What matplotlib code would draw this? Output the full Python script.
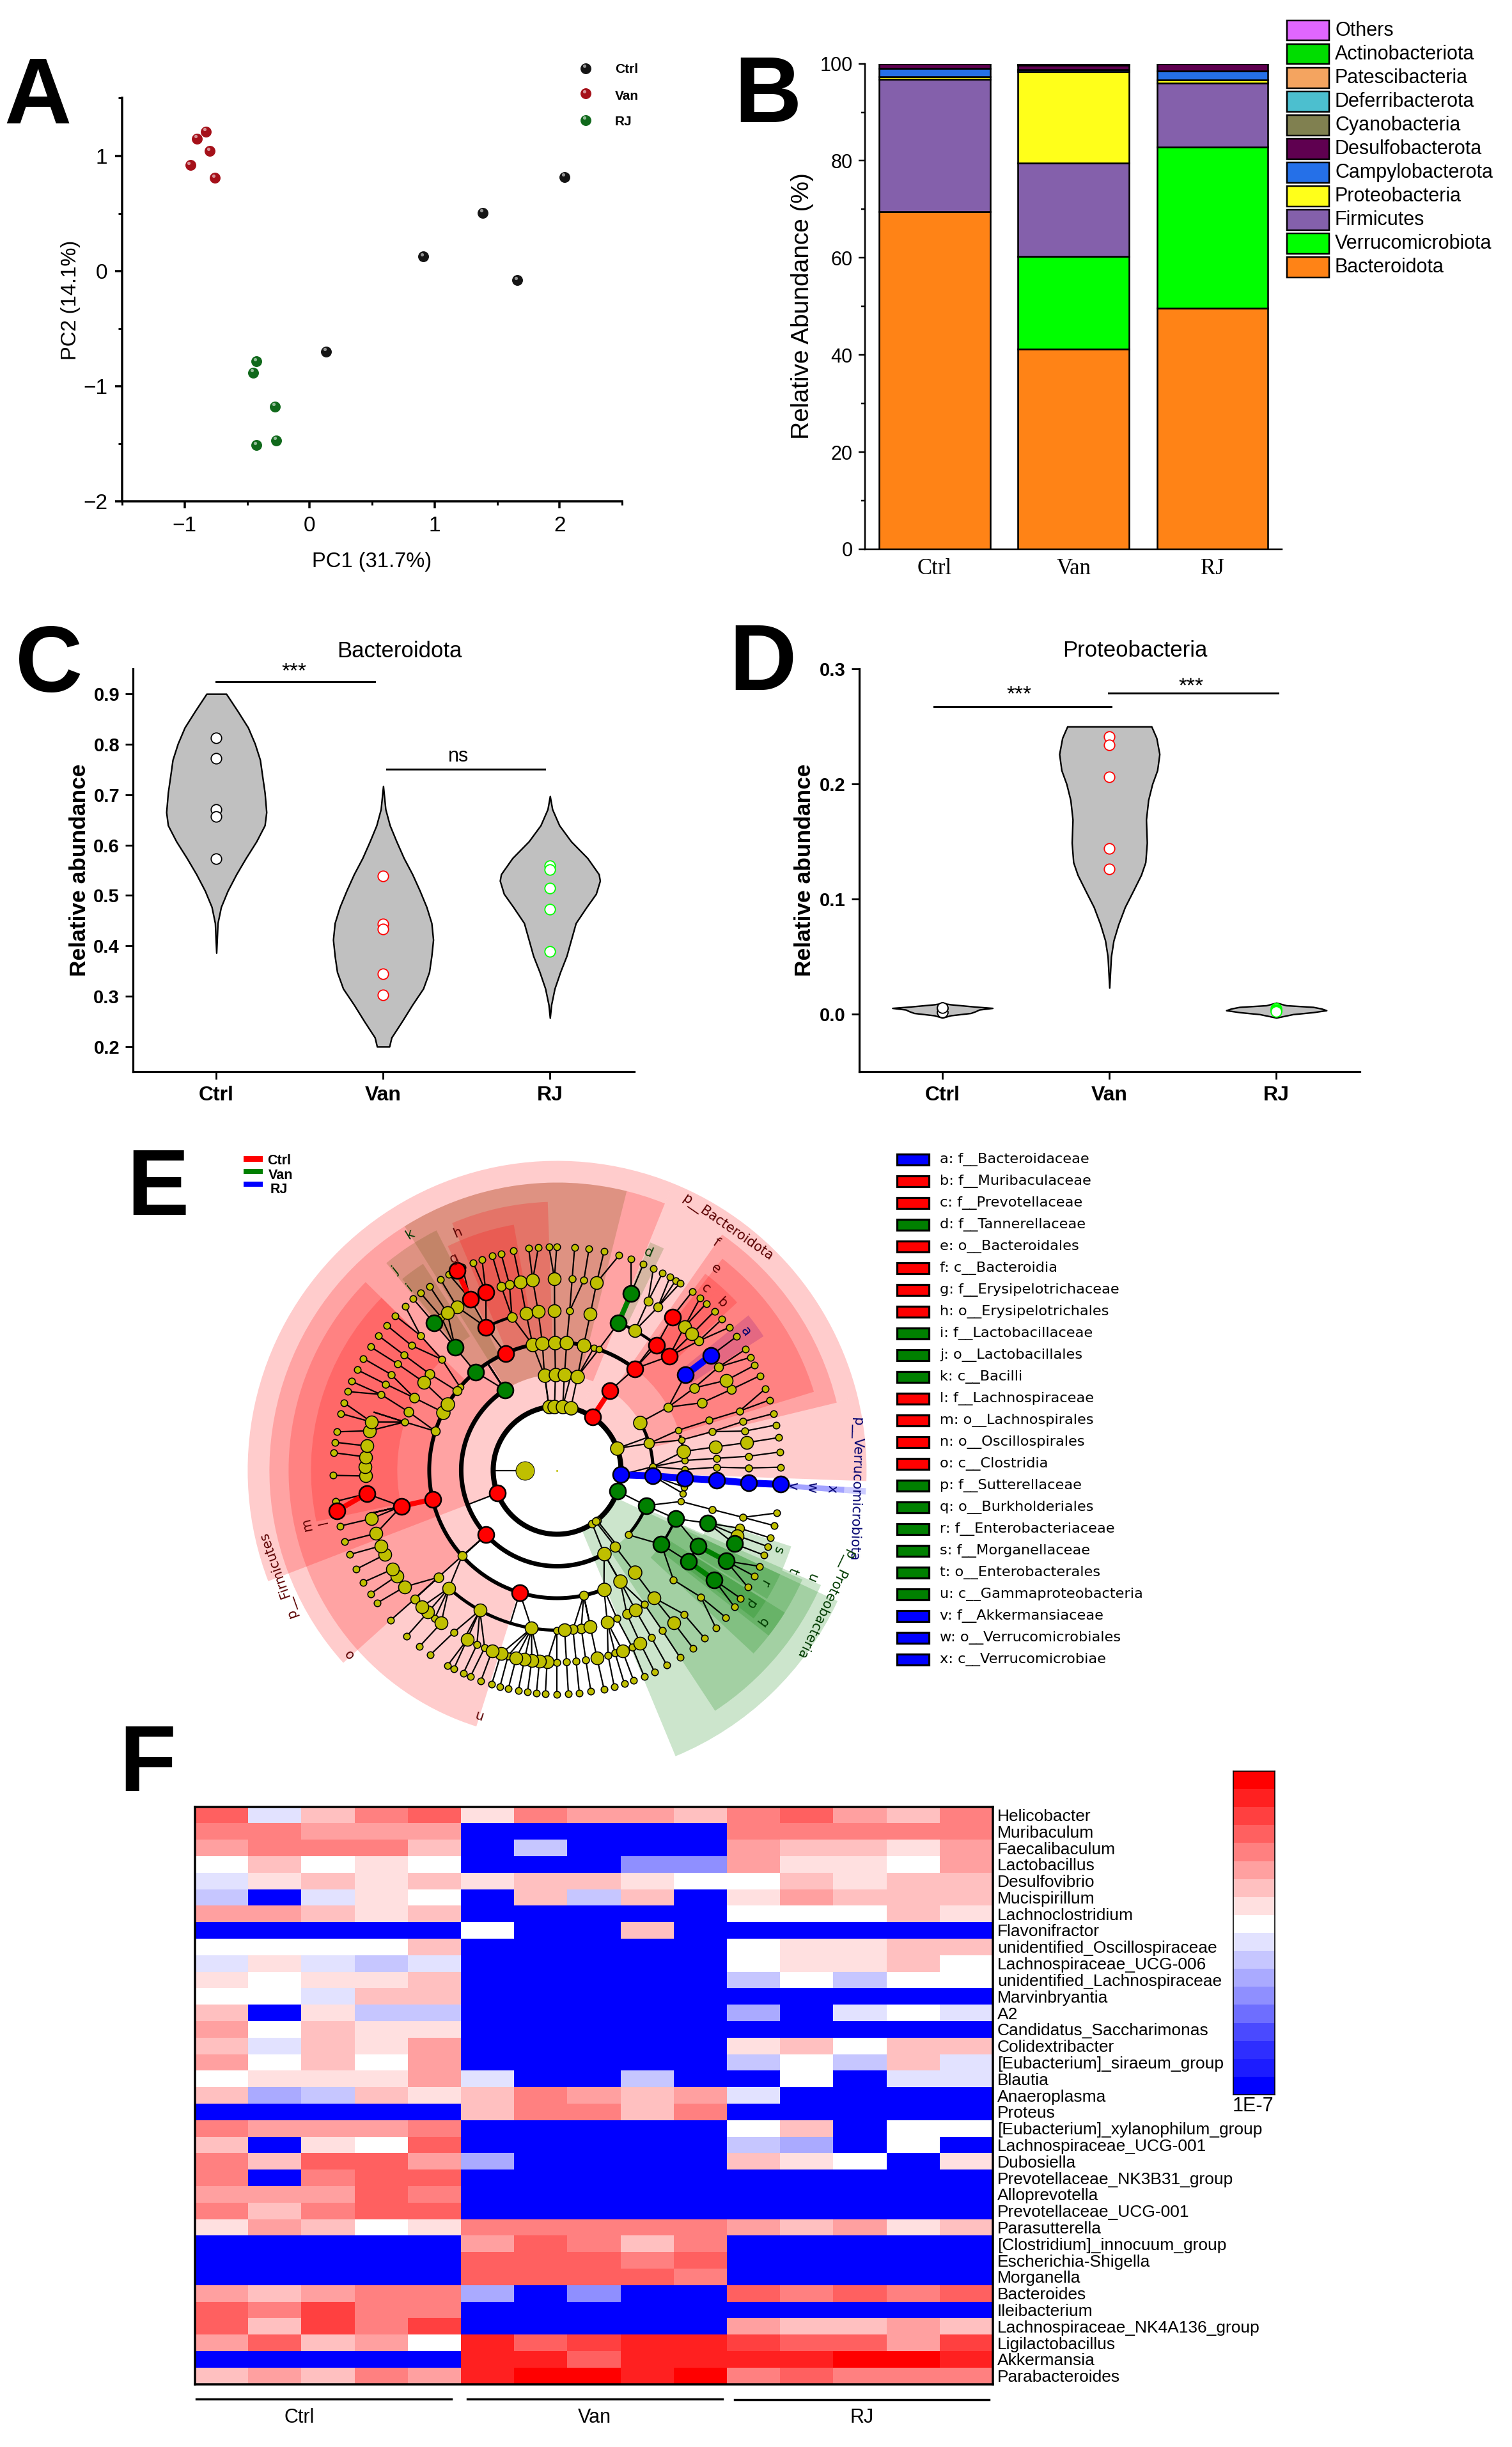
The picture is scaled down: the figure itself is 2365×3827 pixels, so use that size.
import numpy as np
import matplotlib
matplotlib.use('Agg')
from matplotlib import pyplot as plt
from matplotlib.colors import ListedColormap, BoundaryNorm
from matplotlib.transforms import offset_copy

plt.rcParams['font.family'] = ['Liberation Sans', 'DejaVu Sans']

W, H = 2365, 3827
B = -9

# A - PCA
pca_groups = ['Ctrl', 'Van', 'RJ']
pca_x = [[0.13, 0.91, 1.385, 1.66, 2.04],
         [-0.83, -0.90, -0.80, -0.955, -0.757],
         [-0.427, -0.449, -0.276, -0.269, -0.427]]
pca_y = [[-0.70, 0.125, 0.504, -0.082, 0.817],
         [1.21, 1.15, 1.04, 0.92, 0.807],
         [-0.787, -0.883, -1.176, -1.47, -1.512]]
pca_colors = ['#151515', '#A51019', '#10691B']

# B - stacked bars, bottom to top
phyla = ['Bacteroidota', 'Verrucomicrobiota', 'Firmicutes', 'Proteobacteria', 'Campylobacterota',
         'Desulfobacterota', 'Cyanobacteria', 'Deferribacterota', 'Patescibacteria',
         'Actinobacteriota', 'Others']
phyla_colors = ['#FF8316', '#00FF00', '#8460AB', '#FFFF1A', '#2570E8', '#5F0050', '#808050',
                '#4CBFCF', '#F4A460', '#00DD00', '#E066FF']
groups = ['Ctrl', 'Van', 'RJ']
ctrl_abund = [69.5, 0.05, 27.2, 0.55, 1.7, 0.9, 0.02, 0.02, 0.02, 0.02, 0.02]
van_abund = [41.2, 19.1, 19.2, 18.9, 0.4, 0.9, 0.06, 0.06, 0.06, 0.06, 0.06]
rj_abund = [49.6, 33.2, 13.2, 0.7, 1.8, 1.4, 0.02, 0.02, 0.02, 0.02, 0.02]

# C - Bacteroidota violins, outline
bac_ctrl_y = [0.9, 0.866, 0.833, 0.801, 0.769, 0.736, 0.704, 0.665, 0.639, 0.607, 0.574, 0.542, 0.509, 0.477, 0.445, 0.386]
bac_ctrl_w = [0.059, 0.127, 0.19, 0.231, 0.262, 0.276, 0.29, 0.30, 0.29, 0.24, 0.177, 0.12, 0.068, 0.028, 0.008, 0.0]
bac_van_y = [0.717, 0.671, 0.639, 0.607, 0.574, 0.542, 0.509, 0.477, 0.445, 0.412, 0.38, 0.348, 0.315, 0.283, 0.25, 0.218, 0.2]
bac_van_w = [0.0, 0.014, 0.04, 0.08, 0.124, 0.175, 0.22, 0.26, 0.29, 0.30, 0.29, 0.276, 0.24, 0.175, 0.113, 0.05, 0.037]
bac_rj_y = [0.697, 0.671, 0.639, 0.607, 0.574, 0.542, 0.529, 0.503, 0.477, 0.445, 0.412, 0.38, 0.348, 0.315, 0.283, 0.257]
bac_rj_w = [0.0, 0.014, 0.056, 0.127, 0.225, 0.293, 0.30, 0.276, 0.22, 0.155, 0.127, 0.1, 0.062, 0.028, 0.008, 0.0]
bac_points = [[0.812, 0.772, 0.670, 0.656, 0.573],
              [0.539, 0.443, 0.433, 0.344, 0.303],
              [0.559, 0.551, 0.514, 0.472, 0.389]]

# D - Proteobacteria violins
pro_ctrl_y = [0.0096, 0.0085, 0.0065, 0.0054, 0.004, 0.0026, 0.001, -0.001, -0.003]
pro_ctrl_w = [0.0, 0.05, 0.2, 0.30, 0.22, 0.2, 0.17, 0.05, 0.0]
pro_van_y = [0.25, 0.24, 0.226, 0.212, 0.2, 0.186, 0.169, 0.149, 0.132, 0.121, 0.107, 0.093, 0.078, 0.064, 0.05, 0.023]
pro_van_w = [0.252, 0.282, 0.30, 0.287, 0.257, 0.233, 0.22, 0.225, 0.216, 0.19, 0.142, 0.093, 0.054, 0.025, 0.01, 0.0]
pro_rj_y = [0.01, 0.0077, 0.0063, 0.0049, 0.0034, 0.0017, 0.0, -0.003]
pro_rj_w = [0.0, 0.06, 0.22, 0.27, 0.30, 0.22, 0.1, 0.0]
pro_points = [[0.0054, 0.0058, 0.0017, 0.002, 0.0055],
              [0.241, 0.234, 0.206, 0.144, 0.126],
              [0.005, 0.0039, 0.0034, 0.0028, 0.0023]]
point_edges = ['black', 'red', '#00FF00']

# E - cladogram, node angles in degrees per ring
ring350 = [97.3, 94.8, 92.1, 90.1, 85.5, 81.8, 77.9, 73.9, 70.7, 67.3, 64.5, 61.9, 59.7, 58.0, 56.7,
           52.9, 50.3, 48.2, 45.3, 42.5, 39.7, 36.7, 32.7, 30.3, 28, 25, 21.4, 18.3, 14.7, 11.7, 8.4,
           4.7, 0.8, -11, -14.3, -17.6, -19.9, -22.3, -25.4, -28.2, -31.5, -34.9, -37.6, -41.1, -44.8,
           -48.7, -52.6, -56.7, -60.6, -64.2, -67.1, -70, -72.5, -75.2, -77.9, -81.3, -84.3, -87.1, -90,
           -93, -95.3, -97.6, -100, -102.6, -104.8, -107, -109.9, -112.8, -114.8, -117.5, -119.3,
           -124.5, -128, -132.2, -138, -143.6, -146.5, -150, -153.8, -157.9, -161.5, -165.6, -172,
           -178.7, 175.5, 172.8, 170.1, 165.3, 162.4, 159.4, 156.6, 153.3, 150, 146.5, 143, 139.6,
           136.3, 132.8, 130, 127.6, 124.7, 121.4, 118.9, 115, 112, 109.6, 106.8, 104.5, 101.2]
ring300_small = [85.5, 82, 18, 14.7, 11.8, 4.2, 0.7, -14.2, -41.4, -48.6, -56.7, -60.6, -67, -72.4, -74.6,
                 -81.4, -84.3, -87.2, -90, -104.8, -112.2, -114.7, -122.5, -129.6, 156.7, 153.3, 150,
                 146.3, 143, 139.4, 135.4, 127.1]
ring300_mid = [106.9, 104.4, 61.7, 58.3, 42.4, 32.6, 24.9, -17.6, -137.9]
ring300_big = [101.1, 97.3, 90.8, 78.1, 48.4, 45.3, 28, 8.3, -19.9, -52.6, -64.3, -70.1, -78, -93, -95.3,
               -97.6, -99.8, -102.3, -107, -109.8, -118, -127.2, -132.3, -134.7, -142.6, -146.6, -149,
               -153.9, -156.8, -160.8, -165.4, -178.3, 179, 176, 172.7, 168.1, 165.4, 121.5, 124.9]
ring250_small = [85.5, 18.2, 14, 4.3, 1.1, -14.2, -43.3, -56.9, -68, -90, 162.4, 136.1]
ring250_mid = [106.4, 31, 25, -64.1, -81.3, -84.3, -138, 158.5, 153.1, 142.9]
ring250_big = [101.2, 96.8, 90.9, 78, 60.9, 8.4, -52.8, -60.7, -71.7, -78, -87.3, -99.2, -118.9, -132.6, 146.5]
ring200_small = [73.3, 71, 18.3, 13.7, 4.4, 0.4, -7.5, -10.4, -14.1, 139.4]
ring200_mid = [29.6, -78, -138, 162.2, 141.6]
ring200_big = [101, 96.6, 91, 85.7, 78, 8.5, -52.7, -60.4, -68.5, 153, 149]
ring150_small = [81.7, 2.2, -42.2]
ring150_mid = [16.3, -52.7]
ring150_big = [97.6, 91, 85.6, 77.7, 30, -60.6]
ring100_small = [-51.4, -56.7, -53]
ring100_big = [97.3, 92.3, 85, 77.6, 20]

red_r = [100, 150, 200, 250, 250, 300, 100, 150, 200, 200, 250, 300, 350, 200, 250, 300, 300, 350]
red_a = [56.4, 56.4, 52.6, 51.5, 45.5, 53.1, 201, 222.3, 253, 193.1, 193, 187, 190.4, 113.8, 116.4, 116.9, 111.8, 116.6]
green_r = [150, 200, 250, 300, 250, 300, 100, 150, 200, 250, 300, 200, 250, 300, 250, 300]
green_a = [123, 129.7, 129.7, 129.9, 67.4, 67.3, -19, -21.6, -22.2, -19.3, -22.5, -35.4, -28.2, -28.2, -34.8, -34.9]
blue_r = [100, 150, 200, 250, 300, 350, 250, 300]
blue_a = [-4, -3.4, -3.6, -3.5, -3.8, -3.6, 36.6, 36.7]

# thick coloured branches: radius from, angle from, radius to, angle to
red_links = [(100, 56.4, 150, 56.4), (200, 193.1, 250, 193), (300, 187, 350, 190.4), (300, 116.9, 350, 116.6)]
green_links = [(250, 67.4, 300, 67.3), (250, -28.2, 300, -28.2), (250, -34.8, 300, -34.9)]
blue_links = [(100, -4, 150, -3.4), (150, -3.4, 200, -3.6), (200, -3.6, 250, -3.5), (250, -3.5, 300, -3.8),
              (300, -3.8, 350, -3.6), (250, 36.6, 300, 36.7)]

arc_r = [100, 150, 150, 150, 200, 200, 200, 250, 250, 250, 250, 200, 200]
arc_a0 = [0, 123, -42, 2, 52.6, 130, 4, -132.6, 106.4, 51.5, -34.8, -35.4, -22.2]
arc_a1 = [360, 299.4, -21.6, 30, 130, 291.5, 16, -78, 116.4, 67.4, -28.2, -22.2, -19]
arc_lw = [8, 7, 5, 5, 6, 6, 4, 5, 4.5, 4.5, 4, 4, 4]

# (angle from, angle to, radius from, radius to, colour)
sectors = [(68, 201, 100, 484, 'r'), (13.8, 68, 100, 484, 'r'), (-2, 13.8, 100, 484, 'r'),
           (68, 222, 150, 450, 'r'), (135.5, 192, 200, 420, 'r'), (192, 222, 200, 420, 'r'),
           (222, 252.5, 200, 420, 'r'), (92, 113, 200, 420, 'r'), (135.5, 192, 250, 385, 'r'),
           (100, 116, 250, 390, 'r'), (13.6, 55, 150, 450, 'r'), (17, 52, 200, 420, 'r'),
           (43, 48.5, 250, 385, 'r'), (48.5, 53, 250, 385, 'r'), (33, 39, 250, 385, 'b'),
           (64.3, 67.8, 250, 385, 'g'), (76, 122, 150, 450, 'g'), (116.7, 129.5, 200, 420, 'g'),
           (123, 129, 250, 385, 'g'), (-4.5, -3.3, 100, 484, 'b'), (-4.5, -3.3, 150, 450, 'b'),
           (-67.5, -25, 100, 484, 'g'),
           (-56.7, -23.5, 150, 450, 'g'), (-43, -24, 200, 420, 'g'), (-31.5, -25, 250, 385, 'g'),
           (-24, -18, 250, 385, 'g'), (-38, -32, 200, 420, 'g'), (-37, -32, 250, 385, 'g')]

clade_letters = list('abcdefghijklmnopqrstuvwx')
clade_r = [366, 367.6, 367.5, 369, 400.8, 434, 368, 402.6, 367.5, 402, 435, 375, 400, 401.7, 433,
           367, 400, 368.5, 367, 401, 432, 369, 399, 431]
clade_a = [36.4, 45.5, 50.7, 67.2, 51.8, 55.1, 115.9, 112.8, 129, 129, 122, -167.5, -167.7, -107.9,
           -138.6, -34.7, -36.5, -28.5, -19.8, -23, -22.8, -3.8, -3.8, -3.9]
clade_c = list('brrgrrrrgggrrrrggggggbbb')
phylum_names = ['p__Bacteroidota', 'p__Firmicutes', 'p__Verrucomicrobiota', 'p__Proteobacteria']
phylum_r = [463.7, 465, 467, 468]
phylum_a = [54.9, -159.5, -3.6, -26.5]
phylum_rot = [-34.6, 109.5, -91.7, -115.6]
phylum_c = list('rrbg')

clade_legend = ['a: f__Bacteroidaceae', 'b: f__Muribaculaceae', 'c: f__Prevotellaceae', 'd: f__Tannerellaceae',
                'e: o__Bacteroidales', 'f: c__Bacteroidia', 'g: f__Erysipelotrichaceae', 'h: o__Erysipelotrichales',
                'i: f__Lactobacillaceae', 'j: o__Lactobacillales', 'k: c__Bacilli', 'l: f__Lachnospiraceae',
                'm: o__Lachnospirales', 'n: o__Oscillospirales', 'o: c__Clostridia', 'p: f__Sutterellaceae',
                'q: o__Burkholderiales', 'r: f__Enterobacteriaceae', 's: f__Morganellaceae', 't: o__Enterobacterales',
                'u: c__Gammaproteobacteria', 'v: f__Akkermansiaceae', 'w: o__Verrucomicrobiales', 'x: c__Verrucomicrobiae']

# F - heatmap levels, one per colour step of the bar
genera = ['Helicobacter', 'Muribaculum', 'Faecalibaculum', 'Lactobacillus', 'Desulfovibrio', 'Mucispirillum',
          'Lachnoclostridium', 'Flavonifractor', 'unidentified_Oscillospiraceae', 'Lachnospiraceae_UCG-006',
          'unidentified_Lachnospiraceae', 'Marvinbryantia', 'A2', 'Candidatus_Saccharimonas', 'Colidextribacter',
          '[Eubacterium]_siraeum_group', 'Blautia', 'Anaeroplasma', 'Proteus', '[Eubacterium]_xylanophilum_group',
          'Lachnospiraceae_UCG-001', 'Dubosiella', 'Prevotellaceae_NK3B31_group', 'Alloprevotella',
          'Prevotellaceae_UCG-001', 'Parasutterella', '[Clostridium]_innocuum_group', 'Escherichia-Shigella',
          'Morganella', 'Bacteroides', 'Ileibacterium', 'Lachnospiraceae_NK4A136_group', 'Ligilactobacillus',
          'Akkermansia', 'Parabacteroides']
heat = [[5, -1, 2, 4, 5, 1, 4, 3, 3, 2, 4, 5, 3, 2, 4],
        [4, 4, 3, 3, 3, B, B, B, B, B, 4, 4, 4, 4, 4],
        [3, 4, 4, 4, 2, B, -2, B, B, B, 3, 2, 2, 1, 3],
        [0, 2, 0, 1, 0, B, B, B, -4, -4, 3, 1, 1, 0, 3],
        [-1, 1, 2, 1, 2, 1, 2, 2, 1, 0, 0, 2, 1, 2, 2],
        [-2, B, -1, 1, 0, B, 2, -2, 2, B, 1, 3, 2, 2, 2],
        [3, 3, 2, 1, 2, B, B, B, B, B, 0, 0, 0, 2, 1],
        [B, B, B, B, B, 0, B, B, 2, B, B, B, B, B, B],
        [0, 0, 0, 0, 2, B, B, B, B, B, 0, 1, 1, 2, 2],
        [-1, 1, -1, -2, -1, B, B, B, B, B, 0, 1, 1, 2, 0],
        [1, 0, 1, 1, 2, B, B, B, B, B, -2, 0, -2, 0, 0],
        [0, 0, -1, 2, 2, B, B, B, B, B, B, B, B, B, B],
        [2, B, 1, -2, -2, B, B, B, B, B, -3, B, -1, 0, -1],
        [3, 0, 2, 1, 1, B, B, B, B, B, B, B, B, B, B],
        [2, -1, 2, 1, 3, B, B, B, B, B, 1, 2, 0, 2, 2],
        [3, 0, 2, 0, 3, B, B, B, B, B, -2, 0, -2, 2, -1],
        [0, 1, 1, 1, 3, -1, B, B, -2, B, B, 0, B, -1, -1],
        [2, -3, -2, 2, 1, 2, 4, 3, 2, 3, -1, B, B, B, B],
        [B, B, B, B, B, 2, 4, 4, 2, 4, B, B, B, B, B],
        [4, 3, 3, 3, 4, B, B, B, B, B, 0, 2, B, 0, 0],
        [2, B, 1, 0, 5, B, B, B, B, B, -2, -3, B, 0, B],
        [4, 2, 5, 5, 3, -3, B, B, B, B, 2, 1, 0, B, 1],
        [4, B, 4, 5, 5, B, B, B, B, B, B, B, B, B, B],
        [3, 3, 3, 5, 4, B, B, B, B, B, B, B, B, B, B],
        [4, 2, 4, 5, 5, B, B, B, B, B, B, B, B, B, B],
        [1, 3, 2, 0, 1, 4, 4, 4, 4, 4, 3, 2, 3, 1, 2],
        [B, B, B, B, B, 3, 5, 4, 2, 4, B, B, B, B, B],
        [B, B, B, B, B, 5, 5, 5, 4, 5, B, B, B, B, B],
        [B, B, B, B, B, 5, 5, 5, 5, 4, B, B, B, B, B],
        [3, 2, 3, 4, 4, -3, B, -4, B, B, 5, 4, 5, 4, 5],
        [5, 4, 6, 4, 4, B, B, B, B, B, B, B, B, B, B],
        [5, 2, 6, 4, 6, B, B, B, B, B, 3, 2, 2, 3, 2],
        [3, 5, 2, 3, 0, 7, 5, 6, 7, 7, 6, 5, 5, 3, 6],
        [B, B, B, B, B, 7, 7, 5, 7, 7, 7, 7, 8, 8, 7],
        [2, 3, 2, 4, 3, 7, 8, 8, 7, 8, 4, 5, 4, 4, 4]]
heat_colors = ['#0000FF', '#1C1CFF', '#2E2EFF', '#4A4AFF', '#6E6EFF', '#8F8FFF', '#AAAAFF', '#C6C6FF', '#E2E2FF',
               '#FFFFFF', '#FFE0E0', '#FFC0C0', '#FFA0A0', '#FF8080', '#FF6060', '#FF4040', '#FF2020', '#FF0000']


fig = plt.figure(figsize=(W / 100, H / 100), dpi=100)


def panel(x0, y0, x1, y1, **kw):
    return fig.add_axes([x0 / W, 1 - y1 / H, (x1 - x0) / W, (y1 - y0) / H], **kw)


def label(x, y, s, **kw):
    kw.setdefault('ha', 'center')
    kw.setdefault('va', 'center')
    return fig.text(x / W, 1 - y / H, s, **kw)


def px(v):
    return v * 0.72


def clean(ax, lw):
    ax.spines['top'].set_visible(False)
    ax.spines['right'].set_visible(False)
    ax.spines['left'].set_linewidth(px(lw))
    ax.spines['bottom'].set_linewidth(px(lw))


for s, x, y in [('A', 6, 193), ('B', 1148, 191), ('C', 24, 1082), ('D', 1140, 1079), ('E', 198, 1900), ('F', 186, 2801)]:
    label(x, y, s, fontsize=105, fontweight='bold', ha='left', va='baseline')

# --- A ---
ax = panel(191, 153.5, 973, 784)
clean(ax, 3.5)
ax.set_xlim(-1.5, 2.5)
ax.set_ylim(-2, 1.5)
for gx, gy, col in zip(pca_x, pca_y, pca_colors):
    ax.scatter(gx, gy, s=125, color=col, zorder=3)
    shine = offset_copy(ax.transData, fig=fig, x=-1.5, y=2.5, units='points')
    ax.scatter(gx, gy, s=14, color='white', alpha=0.55, linewidths=0, transform=shine, zorder=4)
ax.set_xticks([-1, 0, 1, 2])
ax.set_yticks([-2, -1, 0, 1])
ax.set_xticks([-1.5, -0.5, 0.5, 1.5, 2.5], minor=True)
ax.set_yticks([-1.5, -0.5, 0.5, 1.5], minor=True)
ax.tick_params(which='major', length=px(11), width=px(3.5), labelsize=24, pad=px(12))
ax.tick_params(which='minor', length=px(6), width=px(3))
label(582, 878, 'PC1 (31.7%)', fontsize=23.5)
label(110, 469, 'PC2 (14.1%)', fontsize=23.5, rotation=90)
for leg_y, name, col in zip([1.76, 1.54, 1.31], pca_groups, pca_colors):
    ax.scatter([2.21], [leg_y], s=125, color=col, clip_on=False, zorder=3)
    shine = offset_copy(ax.transData, fig=fig, x=-1.5, y=2.5, units='points')
    ax.scatter([2.21], [leg_y], s=14, color='white', alpha=0.55, linewidths=0, transform=shine, clip_on=False, zorder=4)
for y, name in zip([109, 150, 191], pca_groups):
    label(962, y, name, fontsize=15, fontweight='bold', ha='left')

# --- B ---
ax = panel(1352.5, 99.6, 2005, 859)
clean(ax, 2.5)
bottoms = np.zeros(3)
for i, name in enumerate(phyla):
    vals = np.array([ctrl_abund[i], van_abund[i], rj_abund[i]])
    ax.bar(range(3), vals, 0.8, bottom=bottoms, color=phyla_colors[i], edgecolor='black', linewidth=px(2.6), zorder=2 + i * 0.01)
    bottoms += vals
ax.set_xlim(-0.505, 2.5)
ax.set_ylim(0, 100)
ax.set_xticks(range(3))
ax.set_xticklabels(groups, fontsize=25, family='Liberation Serif')
ax.tick_params(axis='x', length=0, pad=px(14))
ax.set_yticks(range(0, 101, 20))
ax.set_yticks(range(10, 100, 20), minor=True)
ax.tick_params(axis='y', which='major', length=px(10), width=px(2.5), labelsize=22, pad=px(9))
ax.tick_params(axis='y', which='minor', length=px(6), width=px(2.5))
label(1255, 479, 'Relative Abundance (%)', fontsize=28, rotation=90)

ax = panel(2012.5, 29, 2078.6, 436.5)
ax.axis('off')
for i, name in enumerate(phyla[::-1]):
    ax.barh(i, 1, 0.86, color=phyla_colors[::-1][i], edgecolor='black', linewidth=px(2.5), clip_on=False)
    label(2088, 47.5 + i * 37.05, name, fontsize=22, ha='left')
ax.set_xlim(0, 1)
ax.set_ylim(10.5, -0.5)


# --- C and D ---
def violin_panel(box, xlim, ylim, yticks, fmt, outlines, points, title, title_xy, ylab_x, right_end=None):
    ax = panel(*box)
    clean(ax, 3.2)
    ax.set_xlim(*xlim)
    ax.set_ylim(*ylim)
    for i, (vy, vw) in enumerate(outlines):
        vy = np.array(vy)
        vw = np.array(vw)
        ax.fill_betweenx(vy, i - vw, i + vw, facecolor='#C0C0C0', edgecolor='black', linewidth=px(2.4), zorder=2)
        ax.scatter([i] * len(points[i]), points[i], s=140, facecolor='white', edgecolor=point_edges[i],
                   linewidth=px(1.8), zorder=3)
    ax.set_xticks(range(3))
    ax.set_xticklabels(groups, fontsize=23, fontweight='bold')
    ax.set_yticks(yticks)
    ax.set_yticklabels([fmt % t for t in yticks], fontsize=21, fontweight='bold')
    ax.tick_params(axis='both', length=px(12), width=px(2.8))
    ax.tick_params(axis='y', pad=px(9))
    ax.tick_params(axis='x', pad=px(10))
    label(title_xy[0], title_xy[1], title, fontsize=25)
    label(ylab_x, 1360.5, 'Relative abundance', fontsize=25.5, fontweight='bold', rotation=90)
    return ax


ax = violin_panel((208, 1045.7, 992, 1676.3), (-0.5, 2.505), (0.15, 0.95), [0.2, 0.3, 0.4, 0.5, 0.6, 0.7, 0.8, 0.9], '%.1f',
                  [(bac_ctrl_y, bac_ctrl_w), (bac_van_y, bac_van_w), (bac_rj_y, bac_rj_w)], bac_points,
                  'Bacteroidota', (625, 1018.7), 124)
ax.plot([0, 0.95], [0.924, 0.924], color='black', lw=px(3))
ax.plot([1.02, 1.97], [0.75, 0.75], color='black', lw=px(3))
label(460, 1051, '***', fontsize=24)
label(717, 1183, 'ns', fontsize=22)

ax = violin_panel((1343.6, 1046.2, 2127, 1676.3), (-0.5, 2.5), (-0.05, 0.3), [0.0, 0.1, 0.2, 0.3], '%.1f',
                  [(pro_ctrl_y, pro_ctrl_w), (pro_van_y, pro_van_w), (pro_rj_y, pro_rj_w)], pro_points,
                  'Proteobacteria', (1775, 1017.5), 1259)
ax.plot([-0.05, 1.01], [0.2674, 0.2674], color='black', lw=px(3))
ax.plot([0.995, 2.01], [0.279, 0.279], color='black', lw=px(3))
label(1594, 1086.5, '***', fontsize=24)
label(1863, 1073.5, '***', fontsize=24)

# --- E ---
cx, cy = 871.4, 2299.5
ax = panel(cx - 500, cy - 500, cx + 500, cy + 500, projection='polar')
ax.set_ylim(0, 500)
ax.axis('off')
clade_col = {'r': '#FF0000', 'g': '#008000', 'b': '#0000FF'}
text_col = {'r': '#5A0000', 'g': '#003A00', 'b': '#00006E'}
# green and blue go under the red wash
for wanted in 'gbr':
    for a0, a1, r0, r1, c in sectors:
        if c == wanted:
            ax.bar(np.radians((a0 + a1) / 2), r1 - r0, np.radians(a1 - a0), bottom=r0, color=clade_col[c], alpha=0.2,
                   linewidth=0, zorder=1)

for r, a0, a1, lw in zip(arc_r, arc_a0, arc_a1, arc_lw):
    th = np.radians(np.linspace(a0, a1, 120))
    ax.plot(th, np.full(120, r), color='black', lw=px(lw), solid_capstyle='butt', zorder=3)

colored_r = red_r + green_r + blue_r
colored_a = red_a + green_a + blue_a
rings = {100: ring100_small + ring100_big,
         150: ring150_small + ring150_mid + ring150_big,
         200: ring200_small + ring200_mid + ring200_big,
         250: ring250_small + ring250_mid + ring250_big,
         300: ring300_small + ring300_mid + ring300_big,
         350: list(ring350)}
for r, a in zip(colored_r, colored_a):
    rings[r] = rings[r] + [a]

# every node hangs on the closest node of the ring below it
for r in [150, 200, 250, 300, 350]:
    parents = np.array(rings[r - 50])
    for a in rings[r]:
        diff = (parents - a + 180) % 360 - 180
        p = parents[np.argmin(np.abs(diff))]
        if abs((p - a + 180) % 360 - 180) > 8:
            ax.plot(np.radians([p, p]), [r - 50, r], color='black', lw=px(2.2), zorder=2)
        else:
            ax.plot(np.radians([p, a]), [r - 50, r], color='black', lw=px(2.2), zorder=2)
ax.plot(np.radians([180, 180]), [50, 100], color='black', lw=px(2.2), zorder=2)

for links, col, lw in [(red_links, '#FF0000', 8), (green_links, '#008000', 8), (blue_links, '#0000FF', 11)]:
    for r0, a0, r1, a1 in links:
        ax.plot(np.radians([a0, a1]), [r0, r1], color=col, lw=px(lw), zorder=4)

yellow = '#BFBF00'
size_sets = [(ring350, 350, 10.5), (ring300_small, 300, 11), (ring300_mid, 300, 14), (ring300_big, 300, 20),
             (ring250_small, 250, 11), (ring250_mid, 250, 15), (ring250_big, 250, 20), (ring200_small, 200, 10),
             (ring200_mid, 200, 14), (ring200_big, 200, 21), (ring150_small, 150, 11), (ring150_mid, 150, 16),
             (ring150_big, 150, 21), (ring100_small, 100, 12), (ring100_big, 100, 21)]
for angles, r, d in size_sets:
    ax.scatter(np.radians(angles), [r] * len(angles), s=px(d) ** 2, color=yellow, edgecolor='black',
               linewidth=px(1.6), zorder=5)
ax.scatter(np.radians([180]), [50], s=px(29) ** 2, color=yellow, edgecolor='black', linewidth=px(1.0), zorder=5)
ax.scatter([0], [0], s=px(3) ** 2, color=yellow, linewidth=0, zorder=5)
for rs, angles, col in [(red_r, red_a, '#FF0000'), (green_r, green_a, '#008000'), (blue_r, blue_a, '#0000FF')]:
    ax.scatter(np.radians(angles), rs, s=px(25) ** 2, color=col, edgecolor='black', linewidth=px(2.6), zorder=6)

for t, r, a, c in zip(clade_letters, clade_r, clade_a, clade_c):
    ax.text(np.radians(a), r, t, color=text_col[c], fontsize=15, family='DejaVu Sans', rotation=a - 90,
            ha='center', va='center', rotation_mode='anchor', zorder=7)
for t, r, a, rot, c in zip(phylum_names, phylum_r, phylum_a, phylum_rot, phylum_c):
    ax.text(np.radians(a), r, t, color=text_col[c], fontsize=15, family='DejaVu Sans', rotation=rot,
            ha='center', va='center', rotation_mode='anchor', zorder=7)

ax = panel(380.6, 1804, 411, 1870)
ax.axis('off')
ax.barh([0, 1, 2], [1, 1, 1], 0.42, color=['#FF0000', '#008000', '#0000FF'])
ax.set_xlim(0, 1)
ax.set_ylim(2.93, -0.43)
for x, y, name in [(418, 1815, 'Ctrl'), (420, 1838, 'Van'), (423, 1860, 'RJ')]:
    label(x, y, name, fontsize=15.5, fontweight='bold', ha='left')

ax = panel(1403, 1796.6, 1453, 2612.6)
ax.axis('off')
for i, name in enumerate(clade_legend):
    ax.barh(i, 1, 0.5, color=clade_col[clade_c[i]], edgecolor='black', linewidth=px(3.2), clip_on=False)
    label(1470, 1813.6 + i * 34.0, name, fontsize=16.2, family='DejaVu Sans', ha='left')
ax.set_xlim(0, 1)
ax.set_ylim(23.5, -0.5)

# --- F ---
cmap = ListedColormap(heat_colors)
norm = BoundaryNorm(np.arange(-9.5, 9.5), cmap.N)
ax = panel(305, 2825.5, 1553, 3728.5)
ax.pcolormesh(np.array(heat), cmap=cmap, norm=norm, edgecolors='none')
ax.set_ylim(35, 0)
ax.set_xlim(0, 15)
ax.set_xticks([])
ax.yaxis.tick_right()
ax.set_yticks(np.arange(35) + 0.5)
ax.set_yticklabels(genera, fontsize=19)
ax.tick_params(axis='y', length=0, pad=px(7))
for sp in ax.spines.values():
    sp.set_linewidth(px(3.5))

cax = panel(1929, 2770, 1994, 3276)
cax.pcolormesh(np.arange(-9, 9).reshape(-1, 1)[::-1], cmap=cmap, norm=norm)
cax.set_ylim(18, 0)
cax.set_xticks([])
cax.set_yticks([])
for sp in cax.spines.values():
    sp.set_linewidth(px(1.6))
label(1960, 3294, '1E-7', fontsize=22)

for x0, x1, y, name, tx in [(306.8, 706, 3752, 'Ctrl', 468), (731, 1129.5, 3752, 'Van', 930), (1148.6, 1547, 3753, 'RJ', 1348)]:
    fig.add_artist(plt.Line2D([x0 / W, x1 / W], [1 - y / H, 1 - y / H], color='black', lw=px(3.4)))
    label(tx, 3781, name, fontsize=22)

fig.savefig('out.png', dpi=100)
